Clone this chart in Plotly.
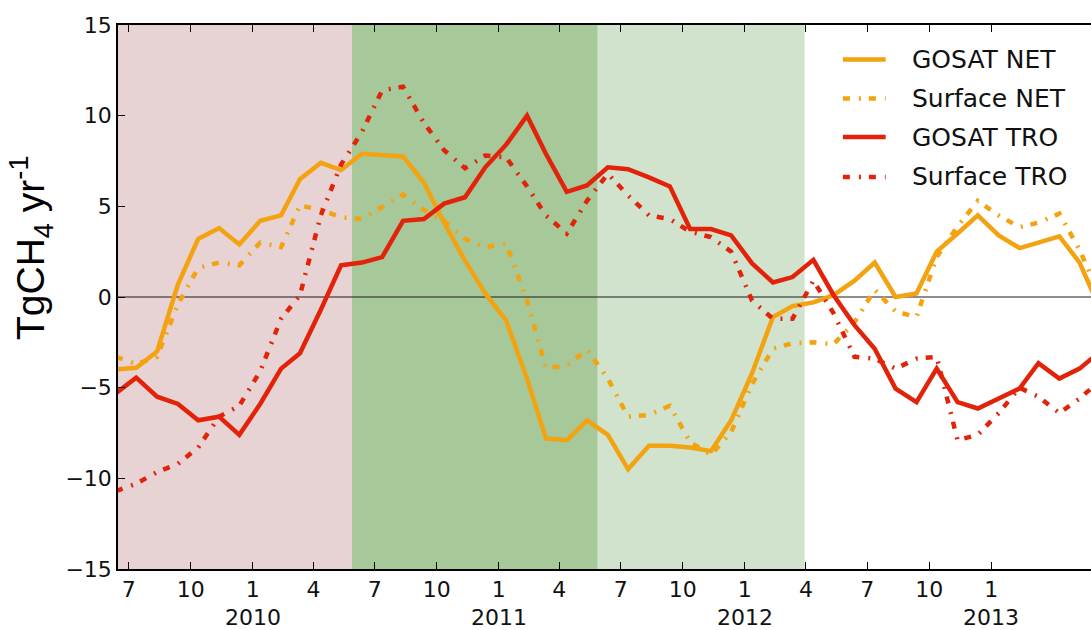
import plotly.graph_objects as go

# ---- data (monthly, Jun 2009 .. Jun 2013) ----
months = [f"{2009 + (5 + i) // 12}-{(5 + i) % 12 + 1:02d}-12" for i in range(49)]

gosat_net = [-4.0, -3.9, -3.0, 0.7, 3.2, 3.8, 2.9, 4.2, 4.5, 6.5, 7.4, 7.0,
             7.9, 7.85, 7.75, 6.3, 4.1, 2.0, 0.2, -1.3, -4.5, -7.8, -7.9, -6.8,
             -7.6, -9.5, -8.2, -8.2, -8.3, -8.5, -6.8, -4.2, -1.1, -0.5, -0.3, 0.1,
             0.9, 1.9, 0.0, 0.2, 2.5, 3.5, 4.5, 3.4, 2.7, 3.0, 3.35, 1.9, -0.7]

surface_net = [-3.3, -3.7, -3.3, -0.4, 1.6, 1.9, 1.75, 3.0, 2.75, 5.05, 4.8, 4.4,
               4.3, 4.95, 5.65, 4.8, 4.2, 3.2, 2.75, 2.95, -0.2, -3.9, -3.8, -2.9,
               -4.5, -6.6, -6.5, -6.0, -8.0, -8.7, -7.45, -4.8, -2.85, -2.55, -2.5, -2.6,
               -1.4, 0.4, -0.8, -1.1, 2.2, 3.9, 5.3, 4.5, 3.85, 4.1, 4.6, 2.6, 0.0]

gosat_tro = [-5.3, -4.45, -5.5, -5.9, -6.8, -6.6, -7.6, -5.9, -3.95, -3.1, -0.7, 1.75,
             1.9, 2.2, 4.2, 4.3, 5.15, 5.5, 7.15, 8.4, 10.0, 7.9, 5.8, 6.15,
             7.15, 7.05, 6.6, 6.1, 3.75, 3.75, 3.4, 1.85, 0.8, 1.1, 2.05, 0.1,
             -1.55, -2.85, -5.05, -5.8, -3.95, -5.8, -6.15, -5.6, -5.05, -3.65, -4.5, -3.95, -3.0]

surface_tro = [-10.7, -10.3, -9.65, -9.2, -8.3, -6.6, -6.0, -4.1, -1.2, 0.1, 4.5, 7.3,
               9.1, 11.4, 11.6, 9.6, 8.1, 7.1, 7.8, 7.7, 6.1, 4.5, 3.5, 5.3,
               6.8, 5.6, 4.5, 4.3, 3.6, 3.3, 2.5, -0.2, -1.2, -1.2, 0.9, -0.9,
               -3.3, -3.4, -3.95, -3.4, -3.3, -7.9, -7.6, -6.4, -5.0, -5.5, -6.4, -5.6, -4.6]

tick_dates = [f"{2009 + (6 + 3 * k) // 12}-{(6 + 3 * k) % 12 + 1:02d}-01" for k in range(15)]
tick_text = [str((6 + 3 * k) % 12 + 1) for k in range(15)]
year_labels = ["2010", "2011", "2012", "2013"]
year_dates = ["2010-01-01", "2011-01-01", "2012-01-01", "2013-01-01"]

periods = [("2009-06-01", "2010-05-28", "#e7d3d4"),
           ("2010-05-28", "2011-05-28", "#a7c99a"),
           ("2011-05-28", "2012-03-30", "#d1e3cc")]

DASHDOT = "7px,9px,2px,8px"
series = [("GOSAT NET", gosat_net, "#f2a30f", "solid"),
          ("Surface NET", surface_net, "#f2a30f", DASHDOT),
          ("GOSAT TRO", gosat_tro, "#e2230a", "solid"),
          ("Surface TRO", surface_tro, "#e2230a", DASHDOT)]

fig = go.Figure()
for name, vals, col, dash in series:
    fig.add_trace(go.Scatter(x=months, y=vals, mode="lines", name=name,
                             line=dict(color=col, width=4.5, dash=dash),
                             showlegend=False))

shapes = []
for x0, x1, col in periods:
    shapes.append(dict(type="rect", xref="x", yref="paper", x0=x0, x1=x1, y0=0, y1=1,
                       fillcolor=col, line=dict(width=0), layer="below"))
shapes.append(dict(type="line", xref="paper", yref="y", x0=0, x1=1, y0=0, y1=0,
                   line=dict(color="#1a1a1a", width=1), layer="below"))

annotations = []
# manual legend
leg_rows = [0.9364, 0.8647, 0.7941, 0.7206]
for (name, vals, col, dash), yy in zip(series, leg_rows):
    shapes.append(dict(type="line", xref="paper", yref="paper", x0=0.745, x1=0.789,
                       y0=yy, y1=yy, line=dict(color=col, width=4.5, dash=dash)))
    annotations.append(dict(text=name, xref="paper", yref="paper", x=0.814, y=yy,
                            xanchor="left", yanchor="middle", showarrow=False,
                            font=dict(family="DejaVu Sans", size=25, color="#111")))
for yl, yd in zip(year_labels, year_dates):
    annotations.append(dict(text=yl, xref="x", yref="paper", x=yd, y=0, yshift=-48,
                            xanchor="center", yanchor="middle", showarrow=False,
                            font=dict(family="DejaVu Sans", size=22, color="#111")))
annotations.append(dict(text="TgCH<sub>4</sub> yr<sup>-1</sup>", xref="paper", yref="paper",
                        x=0, xshift=-87, y=0.59, textangle=-90, showarrow=False,
                        xanchor="center", yanchor="middle",
                        font=dict(family="Liberation Sans", size=39, color="#000")))

fig.update_layout(
    width=1091, height=630,
    margin=dict(l=118, r=0, t=25, b=61),
    plot_bgcolor="white", paper_bgcolor="white",
    shapes=shapes, annotations=annotations,
    font=dict(family="DejaVu Sans", size=22, color="#111"),
)
fig.update_xaxes(type="date", range=["2009-06-15", "2013-05-29"],
                 tickmode="array", tickvals=tick_dates, ticktext=tick_text,
                 ticks="inside", ticklen=7, tickwidth=1, tickcolor="black",
                 showline=True, linecolor="black", linewidth=1.5, mirror="allticks",
                 showgrid=False, zeroline=False)
fig.update_yaxes(range=[-15, 15], tickvals=[-15, -10, -5, 0, 5, 10, 15],
                 ticks="inside", ticklen=7, tickwidth=1, tickcolor="black",
                 showline=True, linecolor="black", linewidth=1.5,
                 showgrid=False, zeroline=False)

fig.write_html("out.html")
